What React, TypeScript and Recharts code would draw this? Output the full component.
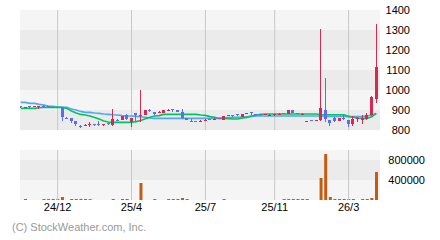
import { ComposedChart, Bar, Line, XAxis, YAxis, CartesianGrid, ReferenceLine } from 'recharts';

// weekly candles
const opens = [
  920, 912, 920, 915, 916, 922, 920, 914, 915, 913, 860, 860, 845, 822, 823, 828, 829, 832, 826, 833,
  825, 852, 850, 877, 840, 883, 870, 875, 902, 888, 888, 887, 898, 905, 900, 888, 858, 847, 845, 843,
  848, 855, 853, 859, 850, 871, 873, 878, 867, 882, 888, 880, 878, 875, 874, 876, 879, 884, 880, 900,
  885, 878, 841, 849, 846, 850, 900, 850, 862, 847, 860, 850, 832, 857, 850, 853, 875, 953,
];
const highs = [
  920, 916, 920, 920, 920, 925, 921, 915, 917, 915, 865, 862, 847, 824, 830, 840, 832, 843, 830, 835,
  903, 855, 872, 880, 862, 883, 1000, 902, 905, 890, 893, 902, 903, 906, 902, 905, 860, 857, 846, 848,
  853, 857, 858, 861, 870, 876, 875, 880, 880, 887, 890, 882, 880, 880, 878, 880, 883, 885, 902, 902,
  886, 884, 845, 850, 850, 1305, 1060, 852, 864, 860, 875, 852, 870, 867, 875, 883, 970, 1330,
];
const lows = [
  912, 908, 912, 913, 907, 918, 915, 908, 910, 847, 855, 837, 822, 810, 820, 817, 822, 820, 822, 823,
  822, 847, 848, 850, 817, 847, 842, 873, 892, 873, 885, 883, 895, 888, 888, 853, 848, 842, 840, 842,
  845, 850, 850, 853, 848, 868, 866, 870, 865, 880, 875, 875, 872, 873, 870, 872, 876, 878, 878, 885,
  880, 876, 838, 843, 843, 845, 840, 820, 842, 845, 850, 813, 820, 838, 830, 850, 870, 933,
];
const closes = [
  916, 914, 917, 918, 919, 920, 917, 912, 913, 863, 857, 847, 828, 813, 826, 831, 826, 829, 828, 829,
  855, 849, 870, 857, 860, 873, 875, 900, 900, 878, 891, 900, 901, 903, 890, 858, 850, 844, 842, 846,
  851, 852, 856, 856, 868, 874, 871, 876, 878, 884, 885, 877, 874, 878, 876, 878, 881, 881, 900, 887,
  882, 881, 843, 846, 848, 910, 853, 837, 847, 858, 857, 830, 855, 859, 858, 875, 967, 1117,
];
const maShort = [
  908, 908, 908, 908, 911, 913, 913, 913, 913, 913, 908, 895, 885, 878, 875, 870, 863, 855, 845, 840,
  838, 838, 838, 838, 839, 842, 848, 856, 864, 870, 872, 878, 878, 878, 878, 878, 878, 878, 878, 875,
  873, 867, 864, 858, 858, 857, 855, 855, 860, 863, 870, 875, 878, 880, 880, 880, 880, 880, 880, 880,
  880, 880, 880, 880, 880, 876, 876, 876, 876, 876, 876, 868, 864, 860, 858, 858, 866, 883,
];
const maLong = [
  938, 938, 933, 933, 928, 925, 920, 918, 915, 913, 913, 905, 900, 893, 888, 888, 885, 883, 880, 878,
  876, 875, 872, 870, 870, 868, 866, 864, 860, 858, 858, 858, 858, 858, 858, 858, 858, 858, 858, 858,
  858, 858, 858, 858, 860, 862, 863, 863, 864, 866, 868, 870, 870, 870, 870, 870, 870, 870, 870, 870,
  870, 870, 870, 870, 870, 869, 868, 868, 868, 868, 868, 867, 867, 867, 868, 870, 875, 883,
];
const volumes = [
  0, 20000, 0, 0, 0, 20000, 18000, 20000, 22000, 60000, 0, 20000, 20000, 22000, 20000, 18000, 0, 0, 0, 0,
  20000, 0, 20000, 20000, 0, 0, 340000, 0, 0, 20000, 0, 0, 20000, 20000, 20000, 40000, 20000, 0, 0, 0,
  0, 0, 0, 0, 20000, 0, 0, 0, 0, 0, 0, 0, 0, 0, 0, 0, 0, 20000, 20000, 20000,
  20000, 20000, 20000, 0, 0, 440000, 920000, 60000, 20000, 20000, 20000, 20000, 20000, 0, 20000, 20000, 40000, 560000,
];
const gridIdx = [8, 24, 40, 55, 71];
const tickLabels = ['24/12', '25/4', '25/7', '25/11', '26/3'];
const priceTicks = [800, 900, 1000, 1100, 1200, 1300, 1400];
const volTicks = [0, 400000, 800000, 1000000];
const volLabels = [400000, 800000];

const RED = '#d62850';
const BLUE = '#5a6ef0';
const FONT = '"Liberation Sans", Arial, sans-serif';
const xDomain = [-0.15, 77.8];
const priceMargin = { top: 10, right: 0, bottom: 10, left: 20 };

const data = opens.map((o, i) => ({
  i,
  open: o,
  high: highs[i],
  low: lows[i],
  close: closes[i],
  maShort: maShort[i],
  maLong: maLong[i],
  vol: volumes[i],
}));

const Candle = (props: any) => {
  const { x, y, width, height, payload } = props;
  const { open, close, high, low } = payload;
  const top = Math.min(y, y + height);
  const h = Math.abs(height);
  const k = h / (high - low);
  const yOf = (v: number) => top + (high - v) * k;
  const color = close >= open ? RED : BLUE;
  const cx = Math.round(x + width / 2 - 0.5);
  const bTop = Math.round(yOf(Math.max(open, close)));
  const bBot = Math.round(yOf(Math.min(open, close)));
  const wTop = Math.round(top);
  const wBot = Math.round(top + h);
  return (
    <g>
      <rect x={cx} y={wTop} width={1} height={Math.max(1, wBot - wTop)} fill={color} />
      <rect x={cx - 1} y={bTop} width={3} height={Math.max(1, bBot - bTop)} fill={color} />
    </g>
  );
};

const priceTick = (p: any) => (
  <text x={p.x + 30} y={p.y} textAnchor="end" dominantBaseline="central" fontSize={11} fill="#000" fontFamily={FONT}>
    {p.payload.value}
  </text>
);

export default function App() {
  return (
    <div style={{ position: 'absolute', left: 0, top: 0, width: 440, height: 240, background: '#fff', fontFamily: FONT }}>
      {/* price panel: background, grid and moving averages */}
      <div style={{ position: 'absolute', left: 0, top: 0 }}>
        <ComposedChart width={440} height={140} data={data} margin={priceMargin}>
          <CartesianGrid vertical={false} stroke="none" horizontalFill={['#f5f5f5', '#ebebeb']} />
          <XAxis dataKey="i" type="number" domain={xDomain} allowDataOverflow hide />
          <YAxis
            orientation="right"
            width={60}
            domain={[800, 1400]}
            ticks={priceTicks}
            interval={0}
            axisLine={false}
            tickLine={false}
            tickSize={0}
            tickMargin={0}
            tick={priceTick}
          />
          {gridIdx.map((t) => (
            <ReferenceLine key={t} x={t} stroke="#c8c8c8" strokeWidth={1} />
          ))}
          <Line type="linear" dataKey="maLong" stroke="#52a6fa" strokeWidth={1.6} dot={false} isAnimationActive={false} />
          <Line type="linear" dataKey="maShort" stroke="#00c462" strokeWidth={1.6} dot={false} isAnimationActive={false} />
        </ComposedChart>
      </div>
      {/* price panel: candles on top */}
      <div style={{ position: 'absolute', left: 0, top: 0 }}>
        <ComposedChart width={440} height={140} data={data} margin={priceMargin}>
          <XAxis dataKey="i" type="number" domain={xDomain} allowDataOverflow hide />
          <YAxis orientation="right" width={60} domain={[800, 1400]} ticks={priceTicks} tick={false} axisLine={false} tickLine={false} />
          <Bar dataKey={(d: any) => [d.low, d.high]} barSize={5} shape={Candle} isAnimationActive={false} />
        </ComposedChart>
      </div>
      {/* volume panel */}
      <div style={{ position: 'absolute', left: 0, top: 140 }}>
        <ComposedChart width={440} height={100} data={data} margin={{ top: 10, right: 0, bottom: 0, left: 20 }}>
          <CartesianGrid vertical={false} stroke="none" horizontalFill={['#f5f5f5', '#ebebeb']} />
          <XAxis
            dataKey="i"
            type="number"
            domain={xDomain}
            allowDataOverflow
            ticks={gridIdx}
            interval={0}
            height={40}
            axisLine={false}
            tickLine={false}
            tickSize={0}
            tickMargin={3}
            tick={{ fontSize: 11, fill: '#000', fontFamily: FONT }}
            tickFormatter={(v: number) => tickLabels[gridIdx.indexOf(v)]}
          />
          <YAxis
            orientation="right"
            width={60}
            domain={[0, 1000000]}
            ticks={volTicks}
            interval={0}
            axisLine={false}
            tickLine={false}
            tickSize={0}
            tickMargin={0}
            tick={(p: any) =>
              volLabels.includes(p.payload.value) ? (
                <text x={p.x + 45} y={p.y} textAnchor="end" dominantBaseline="central" fontSize={11} fill="#000" fontFamily={FONT}>
                  {p.payload.value}
                </text>
              ) : (
                <g />
              )
            }
          />
          {gridIdx.map((t) => (
            <ReferenceLine key={t} x={t} stroke="#c8c8c8" strokeWidth={1} />
          ))}
          <Bar dataKey="vol" barSize={3} fill="#c65a11" isAnimationActive={false} />
        </ComposedChart>
      </div>
      <div style={{ position: 'absolute', left: 12, top: 221, fontSize: 11, lineHeight: '13px', color: '#999' }}>
        (C) StockWeather.com, Inc.
      </div>
    </div>
  );
}
